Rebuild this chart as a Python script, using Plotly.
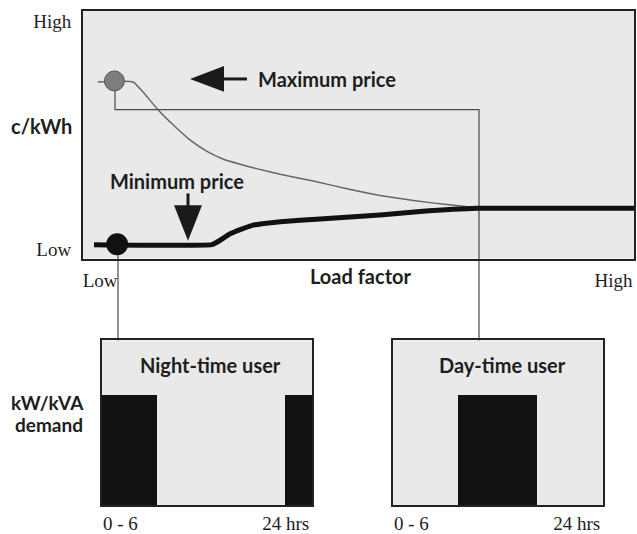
import plotly.graph_objects as go

# ---- data ----
# Top panel: price (c/kWh, relative 0..1) against load factor (relative 0..1)
max_price_x = [0.027, 0.091, 0.109, 0.134, 0.164, 0.194, 0.225, 0.255, 0.285, 0.315,
               0.358, 0.418, 0.479, 0.539, 0.600, 0.660, 0.715]
max_price_y = [0.713, 0.713, 0.672, 0.606, 0.539, 0.479, 0.433, 0.401, 0.381, 0.363,
               0.340, 0.313, 0.282, 0.255, 0.234, 0.218, 0.205]
min_price_x = [0.020, 0.234, 0.249, 0.267, 0.289, 0.309, 0.358, 0.430, 0.539, 0.612, 0.715, 1.000]
min_price_y = [0.056, 0.056, 0.074, 0.100, 0.120, 0.135, 0.149, 0.160, 0.176, 0.190, 0.203, 0.203]
max_point = (0.057, 0.717)
min_point = (0.062, 0.058)
load_tick_vals = [0.031, 0.963]
load_tick_text = ["Low", "High"]
price_tick_vals = [0.036, 0.956]
price_tick_text = ["Low", "High"]

# Bottom panels: demand profiles over 24 hours (start, end, demand level)
night_start = [0.0, 20.9]
night_end = [6.3, 24.0]
night_demand = [0.665, 0.665]
day_start = [7.4]
day_end = [16.5]
day_demand = [0.665]
hour_tick_vals = [2.1, 21.0]
hour_tick_text = ["0 - 6", "24 hrs"]

W, H = 637, 534


def px(x):
    return x / W


def py(y):
    return 1 - y / H


SERIF = "Liberation Serif"
SANS = "Lato"
INK = "#1e1e1e"
PANEL = "#e9e9e9"

fig = go.Figure()

# Top panel traces
fig.add_trace(go.Scatter(x=max_price_x, y=max_price_y, mode="lines",
                         line=dict(color="#666666", width=1.5, shape="spline", smoothing=0.4),
                         xaxis="x", yaxis="y", hoverinfo="skip", showlegend=False))
fig.add_trace(go.Scatter(x=min_price_x, y=min_price_y, mode="lines",
                         line=dict(color="#111111", width=5, shape="spline", smoothing=0.3),
                         xaxis="x", yaxis="y", hoverinfo="skip", showlegend=False))
fig.add_trace(go.Scatter(x=[max_point[0]], y=[max_point[1]], mode="markers",
                         marker=dict(size=20, color="#7d7d7d", line=dict(color="#555555", width=1)),
                         xaxis="x", yaxis="y", hoverinfo="skip", showlegend=False))
fig.add_trace(go.Scatter(x=[min_point[0]], y=[min_point[1]], mode="markers",
                         marker=dict(size=22, color="#111111"),
                         xaxis="x", yaxis="y", hoverinfo="skip", showlegend=False))


def bars(starts, ends, vals, xa, ya):
    return go.Bar(x=[(a + b) / 2 for a, b in zip(starts, ends)],
                  width=[b - a for a, b in zip(starts, ends)],
                  y=vals, marker=dict(color="#111111", line=dict(width=0)),
                  xaxis=xa, yaxis=ya, hoverinfo="skip", showlegend=False)


fig.add_trace(bars(night_start, night_end, night_demand, "x2", "y2"))
fig.add_trace(bars(day_start, day_end, day_demand, "x3", "y3"))

axis_common = dict(showgrid=False, zeroline=False, showline=True, mirror=True,
                   linecolor="#222222", linewidth=2, ticks="", fixedrange=True)
serif_tick = dict(family=SERIF, size=19, color=INK)

top_dom_x = [px(83), px(634)]
top_dom_y = [py(262), py(11)]
bot_dom_y = [py(512), py(345)]

fig.update_layout(
    width=W, height=H,
    margin=dict(l=0, r=0, t=0, b=0),
    paper_bgcolor="white", plot_bgcolor=PANEL,
    bargap=0,
    xaxis=dict(domain=top_dom_x, range=[0, 1], tickvals=load_tick_vals, ticktext=load_tick_text,
               tickfont=serif_tick, ticklabelstandoff=4, anchor="y", **axis_common),
    yaxis=dict(domain=top_dom_y, range=[0, 1], tickvals=price_tick_vals, ticktext=price_tick_text,
               tickfont=serif_tick, ticklabelstandoff=6, anchor="x", **axis_common),
    xaxis2=dict(domain=[px(102), px(312)], range=[0, 24], tickvals=hour_tick_vals,
                ticktext=hour_tick_text, tickfont=serif_tick, ticklabelstandoff=0, anchor="y2",
                **axis_common),
    yaxis2=dict(domain=bot_dom_y, range=[0, 1], showticklabels=False, anchor="x2", **axis_common),
    xaxis3=dict(domain=[px(393), px(603)], range=[0, 24], tickvals=hour_tick_vals,
                ticktext=hour_tick_text, tickfont=serif_tick, ticklabelstandoff=0, anchor="y3",
                **axis_common),
    yaxis3=dict(domain=bot_dom_y, range=[0, 1], showticklabels=False, anchor="x3", **axis_common),
)

bold = dict(family=SANS, size=20, color=INK, weight="bold")


def label(text, x, y, xanchor="center", size=20):
    f = dict(bold)
    f["size"] = size
    fig.add_annotation(text=text, x=px(x), y=py(y), xref="paper", yref="paper",
                       xanchor=xanchor, yanchor="middle", showarrow=False, font=f)


label("c/kWh", 74, 128, "right")
label("Maximum price", 256, 80, "left")
label("Minimum price", 177, 183)
label("Load factor", 361, 280)
label("Night-time user", 210, 370)
label("Day-time user", 502, 370)
label("kW/kVA", 48, 408, size=19)
label("demand", 49, 430, size=19)

# Arrows (decoration, paper coordinates)
def tri(points):
    d = "M " + " L ".join(f"{px(a)},{py(b)}" for a, b in points) + " Z"
    fig.add_shape(type="path", path=d, xref="paper", yref="paper",
                  fillcolor="#1a1a1a", line=dict(width=0))


def seg(pts, width, color, layer="above"):
    d = "M " + " L ".join(f"{px(a)},{py(b)}" for a, b in pts)
    fig.add_shape(type="path", path=d, xref="paper", yref="paper",
                  line=dict(color=color, width=width), layer=layer)


tri([(190, 80), (224, 67), (224, 93)])
seg([(222, 80), (247, 80)], 3, "#1a1a1a")
tri([(188, 244), (174, 208), (202, 208)])
seg([(188, 196), (188, 210)], 3, "#1a1a1a")

# Connectors from the price points to the user profiles
seg([(115, 88), (115, 111), (479, 111), (479, 345)], 1.2, "#4a4a4a", layer="below")
seg([(118, 256), (118, 345)], 1.2, "#4a4a4a", layer="below")

fig.write_html("out.html", config={"displayModeBar": False},
               post_script="document.body.style.margin='0';document.body.style.overflow='hidden';")
